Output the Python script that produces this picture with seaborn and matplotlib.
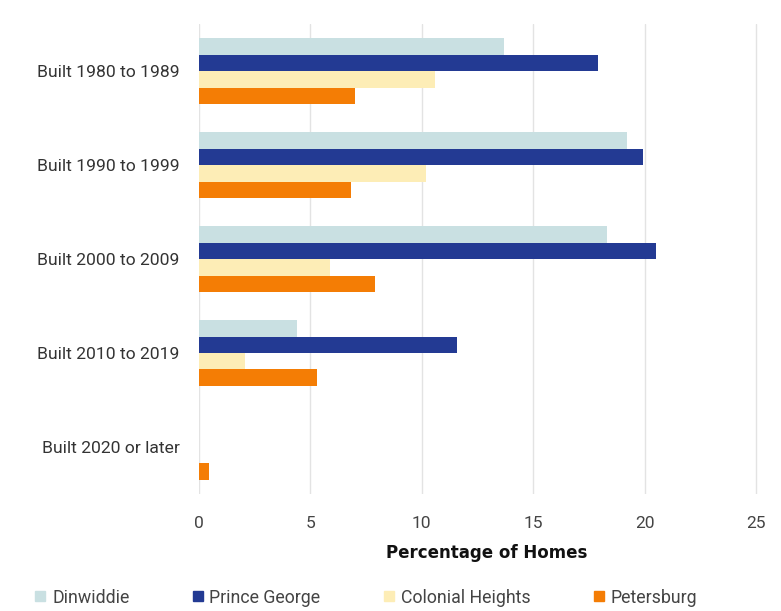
import matplotlib
matplotlib.use("Agg")
import matplotlib.pyplot as plt
from matplotlib.lines import Line2D
import seaborn as sns
import pandas as pd

categories = ["Built 1980 to 1989", "Built 1990 to 1999", "Built 2000 to 2009",
              "Built 2010 to 2019", "Built 2020 or later"]
series = ["Dinwiddie", "Prince George", "Colonial Heights", "Petersburg"]
dinwiddie = [13.7, 19.2, 18.3, 4.4, 0.0]
prince_george = [17.9, 19.95, 20.5, 11.6, 0.0]
colonial_heights = [10.6, 10.2, 5.9, 2.05, 0.0]
petersburg = [7.0, 6.8, 7.9, 5.3, 0.45]
xticks = [0, 5, 10, 15, 20, 25]

colors = ["#c9e0e2", "#233a93", "#fdedb6", "#f47d05"]

values = [dinwiddie, prince_george, colonial_heights, petersburg]
rows = []
for s, vals in zip(series, values):
    for c, v in zip(categories, vals):
        rows.append({"Category": c, "Series": s, "Value": v})
df = pd.DataFrame(rows)

sns.set_theme(style="white")
plt.rcParams["font.family"] = ["Roboto", "DejaVu Sans"]

fig = plt.figure(figsize=(7.81, 6.11), dpi=100)
ax = fig.add_axes([0.2548, 0.1915, 0.736, 0.769])

sns.barplot(data=df, y="Category", x="Value", hue="Series", order=categories,
            hue_order=series, palette=colors, orient="h", width=0.7,
            saturation=1, ax=ax, legend=False, zorder=3, linewidth=0)

ax.set_xlim(0, 25.8)
ax.set_xticks(xticks)
ax.set_xticklabels([str(t) for t in xticks])
ax.grid(axis="x", color="#e3e3e3", linewidth=1, zorder=0)
ax.grid(axis="y", visible=False)
for sp in ax.spines.values():
    sp.set_visible(False)
ax.tick_params(axis="x", length=0, pad=16, labelsize=12.5, labelcolor="#444444")
ax.tick_params(axis="y", length=0, pad=14, labelsize=12.6, labelcolor="#333333")
ax.set_ylabel("")
ax.set_xlabel("Percentage of Homes", fontsize=12, fontweight="heavy",
              color="#111111", labelpad=9, family=["DejaVu Sans"])

handles = [Line2D([0], [0], marker="s", linestyle="", markersize=7,
                  markerfacecolor=c, markeredgecolor=c) for c in colors]
fig.legend(handles, series, loc="center", bbox_to_anchor=(0.468, 0.022), ncol=4,
           frameon=False, fontsize=12.8, handlelength=0.7, handletextpad=0.3,
           columnspacing=3.5, labelcolor="#444444")

fig.savefig("out.png", dpi=100, facecolor="white")
